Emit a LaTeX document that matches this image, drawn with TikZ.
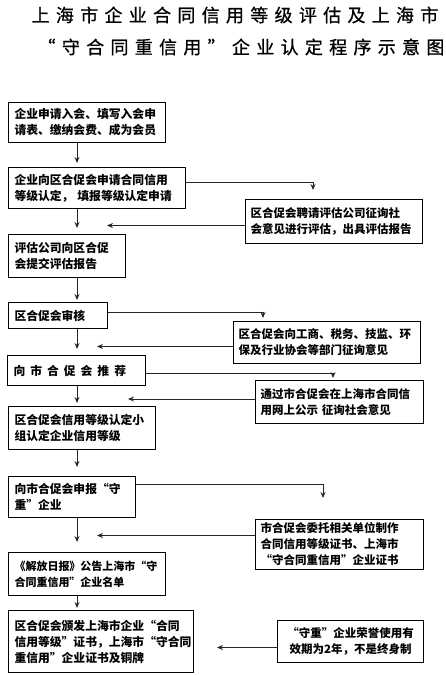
\documentclass[tikz,border=0pt]{standalone}
\usepackage{fontspec}
\newfontfamily\cjk{Noto Sans CJK SC}
\newfontfamily\cjktitle{Noto Sans CJK SC}[LetterSpace=35,FakeBold=0.8]
\usetikzlibrary{arrows.meta}
\begin{document}
\begin{tikzpicture}[x=1pt,y=-1pt,
  box/.style={draw, line width=1pt, anchor=north west, align=left, inner xsep=6pt, inner ysep=2pt,
    font=\cjk\bfseries\fontsize{11.8}{16}\selectfont},
  rbox/.style={box, inner xsep=5pt, font=\cjk\bfseries\fontsize{11.5}{16}\selectfont},
  arr/.style={-{Stealth[length=6pt,width=5pt]}, line width=0.9pt, draw=black!85},
  ttl/.style={font=\cjktitle\fontsize{18}{20}\selectfont, inner sep=0pt}]
\useasboundingbox (0,0) rectangle (445,675);
% titles
\node[ttl] (t1) at (235,15) {上海市企业合同信用等级评估及上海市};
\node[ttl] (t2) at (241,47) {“守合同重信用”企业认定程序示意图};
% main column boxes
\node[box, minimum width=157, minimum height=40, text width=145] (b1) at (8,102) {企业申请入会、填写入会申\\请表、缴纳会费、成为会员};
\node[box, minimum width=177, minimum height=41, text width=165] (b2) at (8,167) {企业向区合促会申请合同信用\\等级认定， 填报等级认定申请};
\node[box, minimum width=117, minimum height=43, text width=105] (b3) at (8,234) {评估公司向区合促\\会提交评估报告};
\node[box, minimum width=99, minimum height=26, text width=87] (b4) at (8,302) {区合促会审核};
\node[box, minimum width=138, minimum height=30, text width=126] (b5) at (7,355) {向\hspace{5pt}市\hspace{5pt}合\hspace{5pt}促\hspace{5pt}会\hspace{5pt}推\hspace{5pt}荐};
\node[box, minimum width=147, minimum height=43, text width=135] (b6) at (8,406) {区合促会信用等级认定小\\组认定企业信用等级};
\node[box, minimum width=127, minimum height=41, text width=115] (b7) at (8,476) {向市合促会申报“守\\重”企业};
\node[box, minimum width=157, minimum height=43, text width=145, font=\cjk\bfseries\fontsize{11}{16}\selectfont] (b8) at (8,552) {《解放日报》公告上海市“守\\合同重信用”企业名单};
\node[box, minimum width=185, minimum height=62, text width=173] (b9) at (8,610) {区合促会颁发上海市企业“合同\\信用等级”证书，上海市“守合同\\重信用”企业证书及铜牌};
% right boxes
\node[rbox, minimum width=177, minimum height=44, text width=167] (rA) at (245,199) {区合促会聘请评估公司征询社\\会意见进行评估，出具评估报告};
\node[rbox, minimum width=187, minimum height=42, text width=177] (rB) at (233,321) {区合促会向工商、税务、技监、环\\保及行业协会等部门征询意见};
\node[rbox, minimum width=168, minimum height=43, text width=158] (rC) at (255,380) {通过市合促会在上海市合同信\\用网上公示 征询社会意见};
\node[rbox, minimum width=168, minimum height=50, text width=158] (rD) at (255,519) {市合促会委托相关单位制作\\合同信用等级证书、上海市\\“守合同重信用”企业证书};
\node[rbox, minimum width=146, minimum height=42, text width=136, align=center] (rE) at (277,620) {“守重”企业荣誉使用有\\效期为2年，不是终身制};
% helper coordinates
\coordinate (col) at (77,0);
\coordinate (kA) at (313,190);
\coordinate (kB) at (263,318);
\coordinate (kC) at (333,378);
\coordinate (kD) at (323,498);
\coordinate (eA) at (107,0);
\coordinate (eB) at (97,0);
\coordinate (eC) at (128,0);
\coordinate (eD) at (97,0);
\coordinate (eE) at (217,0);
% main column arrows
\draw[arr, shorten >=4pt] (b1.south -| col) -- (b2.north -| col);
\draw[arr, shorten >=6pt] (b2.south -| col) -- (b3.north -| col);
\draw[arr, shorten >=2pt] (b3.south -| col) -- (b4.north -| col);
\draw[arr, shorten >=6pt] (b4.south -| col) -- (b5.north -| col);
\draw[arr, shorten >=3pt] (b5.south -| col) -- (b6.north -| col);
\draw[arr, shorten >=9pt] (b6.south -| col) -- (b7.north -| col);
\draw[arr, shorten >=10pt] (b7.south -| col) -- (b8.north -| col);
\draw[arr, shorten >=2pt] (b8.south -| col) -- (b9.north -| col);
% branches to the right
\draw[arr] ([yshift=5.5pt]b2.east) -| (kA);
\draw[arr] ([yshift=3pt]b4.east) -| (kB);
\draw[arr] ([yshift=-3pt]b5.east) -| (kC);
\draw[arr] ([yshift=13pt]b7.east) -| (kD);
% returns to the left
\draw[arr] ([yshift=-4pt]rA.west) -- ([yshift=-4pt]rA.west -| eA);
\draw[arr] ([yshift=-4pt]rB.west) -- ([yshift=-4pt]rB.west -| eB);
\draw[arr] ([yshift=3pt]rC.west) -- ([yshift=3pt]rC.west -| eC);
\draw[arr] ([yshift=9pt]rD.west) -- ([yshift=9pt]rD.west -| eD);
\draw[arr] ([yshift=-6pt]rE.west) -- ([yshift=-6pt]rE.west -| eE);
\end{tikzpicture}
\end{document}
